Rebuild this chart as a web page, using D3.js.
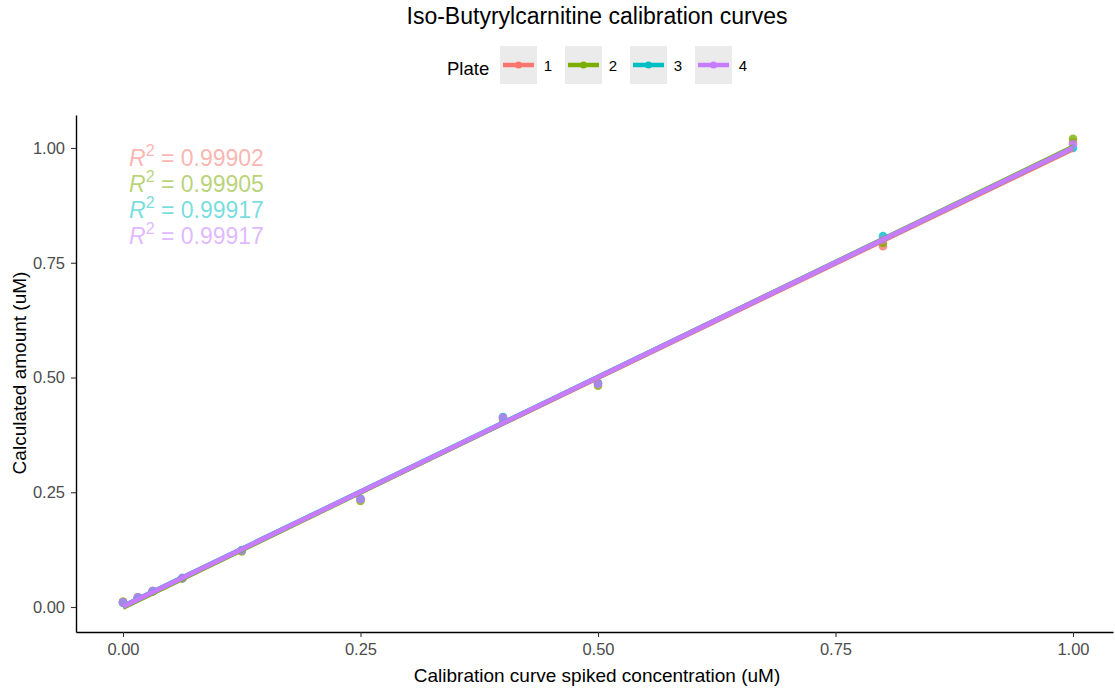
<!DOCTYPE html>
<html><head><meta charset="utf-8">
<script src="https://cdn.jsdelivr.net/npm/d3@7"></script>
<style>body{margin:0;background:#fff;font-family:Arial,"Liberation Sans",sans-serif;}</style>
</head><body>
<svg id="c" width="1115" height="692"></svg>
<script>
const plates = ["1","2","3","4"];
const colors = ["#F8766D","#7CAE00","#00BFC4","#C77CFF"];
const concentrations = [0, 0.015625, 0.03125, 0.0625, 0.125, 0.25, 0.4, 0.5, 0.8, 1.0];
const plate1 = [0.010, 0.021, 0.035, 0.063, 0.123, 0.236, 0.413, 0.488, 0.786, 1.012];
const plate2 = [0.012, 0.021, 0.034, 0.062, 0.121, 0.231, 0.408, 0.482, 0.793, 1.020];
const plate3 = [0.009, 0.020, 0.035, 0.063, 0.124, 0.236, 0.414, 0.488, 0.808, 1.000];
const plate4 = [0.010, 0.021, 0.035, 0.063, 0.123, 0.235, 0.412, 0.486, 0.800, 1.008];
const r2Labels = ["0.99902","0.99905","0.99917","0.99917"];
const xTicks = [0, 0.25, 0.5, 0.75, 1.0];
const yTicks = [0, 0.25, 0.5, 0.75, 1.0];

(function(){
const series = [plate1, plate2, plate3, plate4];
const svg = d3.select("#c");
const pL = 76, pR = 1113, pT = 115, pB = 632;
const x = d3.scaleLinear().domain([(pL-123)/950, (pR-123)/950]).range([pL, pR]);
const y = d3.scaleLinear().domain([-(pB-607)/459, (607-pT)/459]).range([pB, pT]);

// title
svg.append("text").attr("x", 597).attr("y", 24).attr("text-anchor","middle")
  .attr("font-size", 23).attr("fill","#000").text("Iso-Butyrylcarnitine calibration curves");

// legend
const lg = svg.append("g");
lg.append("text").attr("x", 447).attr("y", 75).attr("font-size", 18.5).attr("fill","#000").text("Plate");
plates.forEach((p,i) => {
  const bx = 500 + i*65;
  lg.append("rect").attr("x", bx).attr("y", 46).attr("width", 37).attr("height", 38).attr("fill","#EBEBEB");
  lg.append("line").attr("x1", bx+3).attr("x2", bx+34).attr("y1", 65).attr("y2", 65)
    .attr("stroke", colors[i]).attr("stroke-width", 4.5);
  lg.append("circle").attr("cx", bx+18.5).attr("cy", 65).attr("r", 3.5).attr("fill", colors[i]);
  lg.append("text").attr("x", bx+48).attr("y", 71).attr("font-size", 15).attr("text-anchor","middle").attr("fill","#000").text(p);
});

// axes
const xa = svg.append("g").attr("transform", `translate(0,${pB})`)
  .call(d3.axisBottom(x).tickValues(xTicks).tickFormat(d3.format(".2f")).tickSize(5).tickSizeOuter(0).tickPadding(6));
const ya = svg.append("g").attr("transform", `translate(${pL},0)`)
  .call(d3.axisLeft(y).tickValues(yTicks).tickFormat(d3.format(".2f")).tickSize(5).tickSizeOuter(0).tickPadding(6));
[xa, ya].forEach(a => {
  a.select(".domain").attr("stroke","#000").attr("stroke-width",1.4);
  a.selectAll(".tick line").attr("stroke","#333").attr("stroke-width",1.1);
  a.selectAll(".tick text").attr("font-size", 16.5).attr("fill","#4D4D4D").attr("font-family","Arial,'Liberation Sans',sans-serif");
});

svg.append("text").attr("x", 597).attr("y", 682).attr("text-anchor","middle").attr("font-size", 19).attr("fill","#000")
  .text("Calibration curve spiked concentration (uM)");
svg.append("text").attr("transform", "translate(26,373) rotate(-90)").attr("text-anchor","middle").attr("font-size", 19).attr("fill","#000")
  .text("Calculated amount (uM)");

// points
const pg = svg.append("g");
series.forEach((s,i) => {
  pg.selectAll(null).data(s.map((v,j)=>[concentrations[j], v])).enter().append("circle")
    .attr("cx", d=>x(d[0])).attr("cy", d=>y(d[1])).attr("r", 4.3).attr("fill", colors[i]).attr("opacity", 0.8);
});

// regression lines
const lgd = svg.append("g");
series.forEach((s,i) => {
  const n = s.length;
  const mx = d3.mean(concentrations), my = d3.mean(s);
  let sxy = 0, sxx = 0;
  for (let j=0;j<n;j++){ sxy += (concentrations[j]-mx)*(s[j]-my); sxx += (concentrations[j]-mx)**2; }
  const b = sxy/sxx, a = my - b*mx;
  const x0 = d3.min(concentrations), x1 = d3.max(concentrations);
  lgd.append("line").attr("x1", x(x0)).attr("y1", y(a+b*x0)).attr("x2", x(x1)).attr("y2", y(a+b*x1))
    .attr("stroke", colors[i]).attr("stroke-width", 4.8);
});

// R2 labels
const rg = svg.append("g");
r2Labels.forEach((r,i) => {
  const t = rg.append("text").attr("x", 129).attr("y", 166 + i*26).attr("font-size", 23)
    .attr("fill", colors[i]).attr("fill-opacity", 0.55);
  t.append("tspan").attr("font-style","italic").text("R");
  t.append("tspan").attr("dy", -10).attr("font-size", 16).text("2");
  t.append("tspan").attr("dy", 10).text(" = " + r);
});
})();
</script>
</body></html>
